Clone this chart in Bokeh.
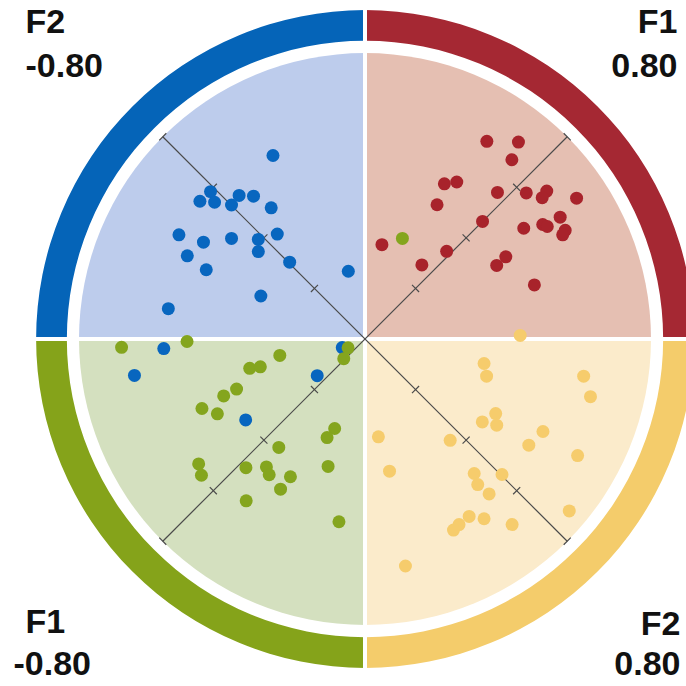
import numpy as np
from bokeh.plotting import figure
from bokeh.models import Range1d, Label
from bokeh.embed import file_html
from bokeh.resources import INLINE

# ---------------- data (F1, F2 loadings) ----------------
red_f1 = [0.632, 0.693, 0.645, 0.464, 0.492, 0.552, 0.608, 0.652, 0.630, 0.697, 0.408, 0.465,
          0.627, 0.533, 0.578, 0.583, 0.611, 0.597, 0.220, 0.335, 0.441, 0.406, 0.259, 0.442]
red_f2 = [-0.150, -0.086, -0.064, -0.150, -0.129, -0.028, 0.030, 0.067, 0.071, 0.140, -0.123, 0.000,
          0.145, 0.095, 0.125, 0.138, 0.181, 0.185, -0.153, -0.012, 0.116, 0.115, -0.034, 0.228]

yellow_f1 = [0.314, 0.187, 0.167, 0.359, 0.332, 0.111, 0.068, 0.090, 0.169, -0.167, -0.032, 0.114,
             0.190, -0.213, -0.050, 0.003, -0.065, -0.061, 0.064, -0.145, -0.120, -0.181, -0.203,
             -0.076, -0.369]
yellow_f2 = [0.300, 0.284, 0.314, 0.506, 0.560, 0.406, 0.396, 0.431, 0.535, 0.220, 0.369, 0.534,
             0.651, 0.310, 0.482, 0.539, 0.511, 0.552, 0.744, 0.557, 0.591, 0.553, 0.553,
             0.658, 0.529]

blue_f1 = [0.181, -0.014, -0.054, -0.027, 0.035, 0.062, 0.001, 0.074, -0.162, -0.128, -0.065,
           -0.014, 0.034, -0.038, -0.187, 0.003, -0.177, -0.121, -0.329, 0.101, -0.417, -0.528,
           -0.167, -0.396, -0.062]
blue_f2 = [-0.545, -0.597, -0.599, -0.568, -0.533, -0.503, -0.529, -0.445, -0.574, -0.511, -0.463,
           -0.408, -0.381, -0.384, -0.516, -0.301, -0.451, -0.291, -0.449, -0.167, -0.379, -0.384,
           -0.022, -0.076, -0.028]

green_f1 = [-0.498, -0.357, -0.201, -0.286, -0.262, -0.353, -0.392, -0.460, -0.440, -0.237, -0.270,
            -0.385, -0.576, -0.593, -0.490, -0.448, -0.458, -0.420, -0.325, -0.464, -0.555, -0.413,
            -0.051, -0.081, 0.273]
green_f2 = [-0.465, -0.347, -0.136, -0.170, -0.152, -0.155, -0.167, -0.185, -0.144, 0.117, 0.120,
            0.044, -0.082, -0.054, 0.019, 0.058, 0.079, 0.125, 0.179, 0.130, 0.085, 0.310,
            -0.016, -0.003, -0.125]

axis_ticks = [-0.8, -0.6, -0.4, -0.2, 0.2, 0.4, 0.6, 0.8]
axis_limit = 0.8

# quadrant order: F1+ (right-top), F2- (left-top), F1- (left-bottom), F2+ (right-bottom)
ring_colors = ["#A52833", "#0564B8", "#85A31A", "#F4CC6B"]
fill_colors = ["#E5BFB2", "#BDCCEC", "#D4E0BF", "#FBEBCB"]
point_colors = {"red": "#A8232B", "yellow": "#F6CC6C", "blue": "#0866BF", "green": "#84A51E"}

corner_titles = ["F1", "F2", "F1", "F2"]
corner_values = ["0.80", "-0.80", "-0.80", "0.80"]

# ---------------- geometry ----------------
S = 357.5              # px per unit
CX, CY = 364.5, 338.5  # picture pixel of origin
OFF = 0                # page offset of the figure
W = H = 686
R_DISK = 0.80
R_RING_IN = 0.834
R_RING_OUT = 0.920


def px2d(px, py):
    return (px - CX) / S, (CY - py) / S


x0, y1 = px2d(OFF, OFF)
x1, y0 = px2d(OFF + W, OFF + H)

p = figure(width=W, height=H, output_backend="svg", toolbar_location=None,
           x_range=Range1d(x0, x1), y_range=Range1d(y0, y1),
           min_border=0, outline_line_color=None, background_fill_color="white",
           border_fill_color="white")
p.axis.visible = False
p.grid.visible = False

starts = [0, np.pi / 2, np.pi, 3 * np.pi / 2]
ends = [np.pi / 2, np.pi, 3 * np.pi / 2, 2 * np.pi]

p.annular_wedge(x=0, y=0, inner_radius=R_RING_IN, outer_radius=R_RING_OUT,
                start_angle=starts, end_angle=ends, fill_color=ring_colors, line_color=None)
p.wedge(x=0, y=0, radius=R_DISK, start_angle=starts, end_angle=ends,
        fill_color=fill_colors, line_color=None)

# white separators
p.segment(x0=[-1.2, 0], y0=[0, -1.2], x1=[1.2, 0], y1=[0, 1.2], line_color="white", line_width=4)

# rotated axes
r2 = np.sqrt(2)
u1 = np.array([1 / r2, 1 / r2]); n1 = np.array([1 / r2, -1 / r2])
u2 = np.array([1 / r2, -1 / r2]); n2 = np.array([1 / r2, 1 / r2])
axis_color = "#4a4a4a"
p.segment(x0=[-axis_limit * u1[0], -axis_limit * u2[0]], y0=[-axis_limit * u1[1], -axis_limit * u2[1]],
          x1=[axis_limit * u1[0], axis_limit * u2[0]], y1=[axis_limit * u1[1], axis_limit * u2[1]],
          line_color=axis_color, line_width=1.2)
h = 5.0 / S
tx0, ty0, tx1, ty1 = [], [], [], []
for u, n in ((u1, n1), (u2, n2)):
    for t in axis_ticks:
        c = t * u
        tx0.append(c[0] - h * n[0]); ty0.append(c[1] - h * n[1])
        tx1.append(c[0] + h * n[0]); ty1.append(c[1] + h * n[1])
p.segment(x0=tx0, y0=ty0, x1=tx1, y1=ty1, line_color=axis_color, line_width=1.2)


def rot(f1, f2):
    f1 = np.asarray(f1); f2 = np.asarray(f2)
    return (f1 + f2) / r2, (f1 - f2) / r2


for name, f1, f2 in (("red", red_f1, red_f2), ("yellow", yellow_f1, yellow_f2),
                     ("blue", blue_f1, blue_f2), ("green", green_f1, green_f2)):
    xs, ys = rot(f1, f2)
    p.scatter(xs, ys, size=13, fill_color=point_colors[name], line_color=None)

# corner labels (y values are the wanted baselines, corrected for renderer offset)
font = "Liberation Sans"
DY = 13
label_spec = [
    (corner_titles[1], 25, 33, "left"), (corner_values[1], 25, 78, "left"),
    (corner_titles[0], 677, 33, "right"), (corner_values[0], 677, 78, "right"),
    (corner_titles[2], 25, 633, "left"), (corner_values[2], 13, 676, "left"),
    (corner_titles[3], 680, 635, "right"), (corner_values[3], 680, 676, "right"),
]
for txt, px, py, al in label_spec:
    lx, ly = px2d(px, py - DY)
    p.add_layout(Label(x=lx, y=ly, text=txt, text_font=font, text_font_style="bold",
                       text_font_size="34px", text_color="#111111", text_align=al,
                       text_baseline="alphabetic"))

open("out.html", "w").write(file_html(p, INLINE))
